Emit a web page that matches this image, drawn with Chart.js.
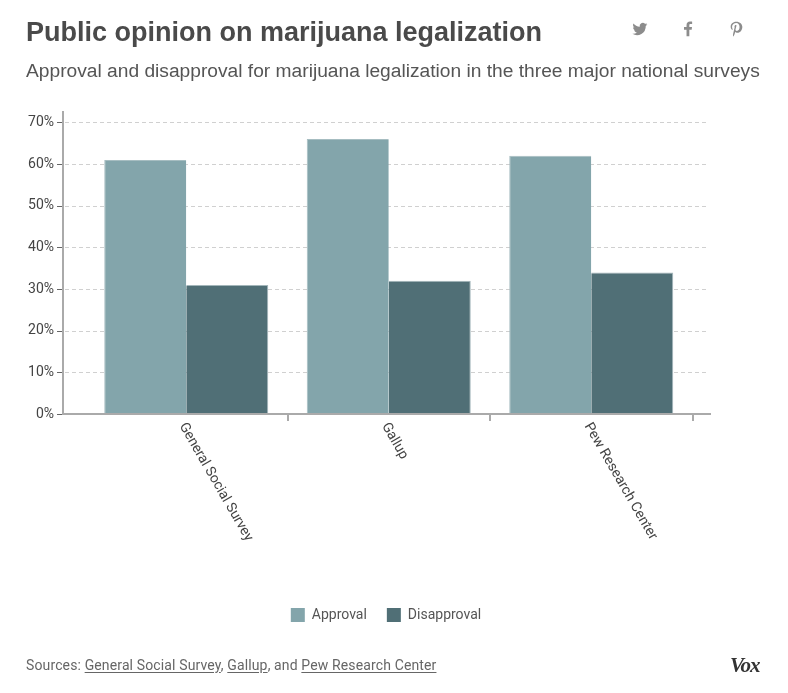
<!DOCTYPE html>
<html>
<head>
<meta charset="utf-8">
<script src="https://cdn.jsdelivr.net/npm/chart.js@4/dist/chart.umd.min.js"></script>
<style>
  body { margin: 0; background: #fff; }
  #page { position: relative; width: 788px; height: 693px; overflow: hidden; color: #555; }
  #page > * { position: absolute; white-space: nowrap; }
  h1 { margin: 0; left: 26px; top: 16px; font: bold 27px/32px "Liberation Sans", sans-serif; color: #4a4a4a; }
  h2 { margin: 0; left: 26px; top: 59px; font: normal 19.2px/24px "Liberation Sans", sans-serif; color: #555; }
  #chart { left: 0; top: 0; }
  #sources { left: 26px; top: 656px; font: 14px/18px Roboto, sans-serif; color: #666; letter-spacing: 0.13px; }
  #sources u { text-underline-offset: 2px; }
  #vox { left: 730px; top: 654px; font: italic bold 21px/22px "Liberation Serif", serif; color: #333; letter-spacing: -1.1px; }
  .icon { top: 21px; width: 16px; height: 16px; fill: #8c8c8c; }
</style>
</head>
<body>
<div id="page">
  <canvas id="chart" width="788" height="693"></canvas>
  <h1>Public opinion on marijuana legalization</h1>
  <h2>Approval and disapproval for marijuana legalization in the three major national surveys</h2>
  <svg class="icon" style="left:632px" viewBox="0 0 24 24"><path d="M23 5c-.8.4-1.700.6-2.600.7.900-.600 1.600-1.400 2-2.500-.9.500-1.900.900-2.900 1.100a4.600 4.600 0 0 0-7.900 4.200C7.800 8.300 4.400 6.500 2.200 3.700c-1.200 2.100-.6 4.800 1.400 6.100-.7 0-1.400-.2-2.100-.6 0 2.200 1.600 4.200 3.700 4.600-.7.200-1.400.2-2.100.1.600 1.900 2.300 3.200 4.300 3.200A9.300 9.300 0 0 1 .6 19a13 13 0 0 0 20-11.500c.9-.6 1.700-1.500 2.400-2.500z"/></svg>
  <svg class="icon" style="left:680px" viewBox="0 0 24 24"><path d="M14 23v-10h3.500l.5-4h-4V6.500c0-1.200.4-2 2-2h2.200V1c-.4 0-1.700-.2-3.200-.2-3.100 0-5.200 1.900-5.200 5.400V9H6v4h3.800v10z"/></svg>
  <svg class="icon" style="left:728px" viewBox="0 0 24 24"><path d="M12.500 1C7 1 4 4.600 4 8.500c0 1.800 1 4.100 2.600 4.800.5.200.7-.8.400-1.300-1.800-2.500-.8-8.900 5.300-8.900 6.800 0 6.300 11.900 1 11.900-1.500 0-2.400-1.200-2-2.600l1.500-5.500c.2-1.400-2.700-1.500-3 .8-.1 1 .2 1.800.2 1.800L7.700 19c-.4 1.800 0 4 .1 4.200.5.200 1.700-2.200 2.100-3.600l1-3.500c.5 1 1.900 1.700 3.300 1.700 4.400 0 7.300-4 7.300-9C21.500 4.600 17.800 1 12.500 1z"/></svg>
  <div id="sources">Sources: <u>General Social Survey</u>, <u>Gallup</u>, and <u>Pew Research Center</u></div>
  <div id="vox">Vox</div>
</div>
<script>
const categories = ['General Social Survey', 'Gallup', 'Pew Research Center']
const approval = [61, 66, 62]
const disapproval = [31, 32, 34]
const yTicks = [0, 10, 20, 30, 40, 50, 60, 70]

const tickFont = '14px Roboto, sans-serif'
const axisColor = '#aaa'
const tickColor = '#666'
const gridColor = '#d0d0d0'

// 軸線跟類別標籤：原圖的軸比類別範圍長，另外畫
const axisPlugin = {
  id: 'axisPlugin',
  afterLayout (chart) {
    // 圖例置中在整張圖，不是繪圖區
    chart.legend.left = 79
    chart.legend.right = 693
  },
  beforeDatasetsDraw (chart) {
    const { ctx, scales } = chart
    ctx.save()
    ctx.lineWidth = 1
    ctx.strokeStyle = gridColor
    ctx.setLineDash([4, 3])
    yTicks.slice(1).forEach((v) => {
      const y = Math.round(scales.y.getPixelForValue(v)) + 0.5
      ctx.beginPath()
      ctx.moveTo(65, y)
      ctx.lineTo(709, y)
      ctx.stroke()
    })
    ctx.restore()
  },
  afterDatasetsDraw (chart) {
    const { ctx, chartArea, scales } = chart
    const left = 63
    const right = 711
    const bottom = Math.round(scales.y.getPixelForValue(0))
    ctx.save()
    ctx.strokeStyle = axisColor
    ctx.lineWidth = 2
    ctx.beginPath()
    ctx.moveTo(left, chartArea.top)
    ctx.lineTo(left, bottom + 1)
    ctx.moveTo(left - 1, bottom)
    ctx.lineTo(right, bottom)
    const step = scales.x.getPixelForValue(1) - scales.x.getPixelForValue(0)
    categories.forEach((c, i) => {
      const x = Math.round(scales.x.getPixelForValue(i) + step / 2)
      ctx.moveTo(x, bottom)
      ctx.lineTo(x, bottom + 7)
    })
    ctx.stroke()
    ctx.strokeStyle = tickColor
    ctx.lineWidth = 1
    ctx.beginPath()
    yTicks.forEach((v) => {
      const y = Math.round(scales.y.getPixelForValue(v)) + 0.5
      ctx.moveTo(left - 6, y)
      ctx.lineTo(left - 1, y)
    })
    ctx.stroke()
    ctx.font = tickFont
    ctx.fillStyle = '#444'
    ctx.textAlign = 'left'
    ctx.textBaseline = 'middle'
    categories.forEach((c, i) => {
      ctx.save()
      ctx.translate(scales.x.getPixelForValue(i) - 4, bottom + 10)
      ctx.rotate(Math.PI / 3)
      ctx.fillText(c, 0, 0)
      ctx.restore()
    })
    ctx.restore()
  }
}

new Chart(document.getElementById('chart'), {
  type: 'bar',
  data: {
    labels: categories,
    datasets: [
      { label: 'Approval', data: approval, backgroundColor: '#83a5ab', borderColor: '#a6bdc1', borderWidth: { top: 1, left: 1, right: 0, bottom: 0 }, categoryPercentage: 0.81, barPercentage: 1 },
      { label: 'Disapproval', data: disapproval, backgroundColor: '#506f76', borderColor: '#a3b6ba', borderWidth: { top: 1, right: 1, left: 0, bottom: 0 }, categoryPercentage: 0.81, barPercentage: 1 }
    ]
  },
  options: {
    responsive: false,
    animation: false,
    layout: { padding: { left: 0, right: 95.5, top: 111, bottom: 61 } },
    plugins: {
      tooltip: { enabled: false },
      legend: {
        position: 'bottom',
        labels: {
          boxWidth: 14,
          boxHeight: 14,
          padding: 20,
          color: '#555',
          font: { family: 'Roboto, sans-serif', size: 14 },
          generateLabels (chart) {
            return chart.data.datasets.map((ds, i) => ({
              text: ds.label,
              fillStyle: ds.backgroundColor,
              strokeStyle: ds.backgroundColor,
              lineWidth: 0,
              fontColor: '#555',
              datasetIndex: i
            }))
          }
        }
      }
    },
    scales: {
      x: {
        grid: { display: false },
        border: { display: false },
        ticks: { display: false },
        afterFit (scale) { scale.height = 174 }
      },
      y: {
        min: 0,
        max: 72.75,
        grid: { display: false, drawTicks: false },
        border: { display: false },
        afterBuildTicks (scale) { scale.ticks = yTicks.map((v) => ({ value: v })) },
        ticks: {
          padding: 31,
          color: '#444',
          font: { family: 'Roboto, sans-serif', size: 14 },
          callback: (v) => v + '%'
        },
        afterFit (scale) { scale.width = 85 }
      }
    }
  },
  plugins: [axisPlugin]
})
</script>
</body>
</html>
